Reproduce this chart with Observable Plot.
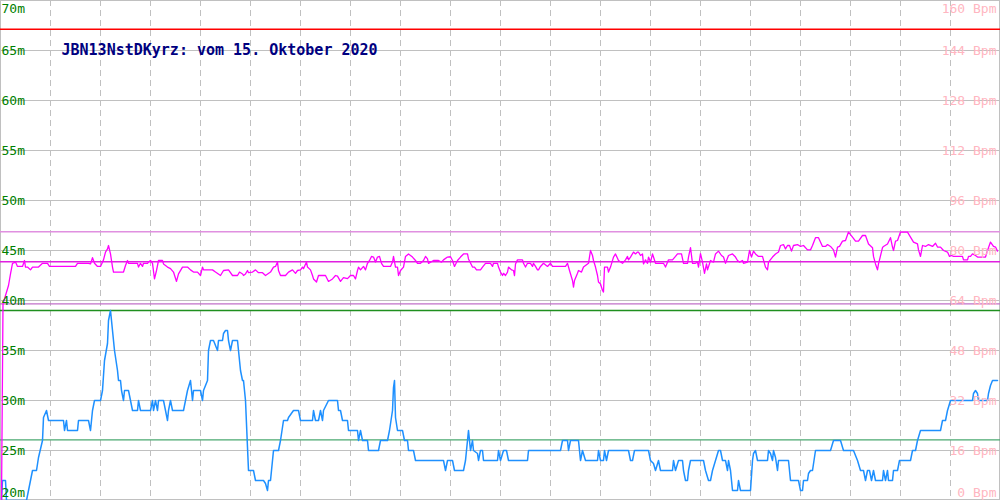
<!DOCTYPE html>
<html><head><meta charset="utf-8">
<script src="https://cdn.jsdelivr.net/npm/d3@7"></script>
<script src="https://cdn.jsdelivr.net/npm/@observablehq/plot@0.6"></script>
<style>html,body{margin:0;padding:0;background:#fff}</style>
</head><body><div id="chart"></div>
<script>
const title = "JBN13NstDKyrz: vom 15. Oktober 2020";
const depthTicks = [20, 25, 30, 35, 40, 45, 50, 55, 60, 65, 70];
const bpmTicks = [0, 16, 32, 48, 64, 80, 96, 112, 128, 144, 160];
const timeTicks = [50, 100, 150, 200, 250, 300, 350, 400, 450, 500, 550, 600, 650, 700, 750, 800, 850, 900, 950];

// [time, depth in m]
const depth = [[1,20],[2,22],[5,22],[6,20],[26,20],[28,21],[32,23],[36,23],[38,24.3],[42,26],[43,28.3],[46,29],[48,28],[63,28],[64,27],[66,28],[67,27],[68,27],[77,27],[78,28],[88,28],[90,27],[92,29],[94,30],[100,30],[102,31],[104,34],[107,35.7],[108,38],[110,39],[112,37],[114,35],[117,33],[118,32],[120,32],[121,31],[123,30],[124,31],[128,31],[130,30],[132,29],[137,29],[138,30],[140,29],[150,29],[152,30],[153,29],[155,30],[157,29],[158,30],[163,30],[165,29],[167,28],[168,29],[170,30],[172,29],[183,29],[185,30],[187,31],[190,32],[192,30],[193,31],[200,31],[202,30],[203,31],[207,32],[208,35],[210,36],[213,36],[217,35],[218,36],[222,36],[223,36.7],[225,37],[227,37],[228,36],[230,35],[232,36],[237,36],[240,33],[242,32],[243,32],[245,30],[247,25.3],[248,23],[253,23],[255,22],[263,22],[265,21.7],[267,21],[268,22],[270,22],[273,25],[278,25],[280,26],[283,28],[287,28],[288,28.3],[293,29],[298,29],[300,28],[312,28],[313,29],[315,28],[318,28],[320,29],[322,28],[323,29],[328,30],[337,30],[338,29],[340,29],[342,28],[347,28],[348,27],[357,27],[358,26],[360,27],[362,26],[367,26],[368,25],[378,25],[380,26],[387,26],[389,27],[392,29],[393,31.3],[394,32],[395,28.3],[397,27],[402,27],[404,26],[407,26],[408,25],[413,25],[415,24],[443,24],[445,23],[447,24],[452,24],[454,23],[463,23],[465,24],[467,26],[468,27],[470,25],[472,26],[473,25],[477,24.7],[478,24],[480,25],[482,25],[483,24],[497,24],[498,25],[500,24],[503,25],[506,25],[508,24],[527,24],[528,25],[560,25],[562,26],[567,26],[568,25],[570,26],[578,26],[580,24],[582,25],[585,24],[597,24],[598,25],[600,24],[603,24],[604,25],[606,24],[608,25],[628,25],[630,24],[632,24],[634,25],[648,25],[650,24],[653,23.7],[655,23],[658,24],[660,23],[672,23],[673,24],[675,23],[678,24],[682,24],[683,23],[685,22],[687,22],[688,23],[690,24],[703,24],[705,23],[708,22],[710,22],[712,23],[715,24],[718,25],[720,25],[722,24],[725,24],[727,23],[728,24],[730,23],[732,21],[737,21],[738,22],[740,21],[750,21],[752,24],[753,24.7],[755,25],[757,24],[767,24],[768,25],[770,24.7],[772,24],[773,25],[775,24.3],[777,23],[778,24],[788,24],[790,22],[798,22],[800,21],[802,21],[803,22],[807,22],[808,22.7],[810,23],[812,23],[815,25],[830,25],[833,26],[840,26],[843,25],[853,25],[857,24],[860,23],[863,23],[865,22],[867,23],[869,23],[871,22],[873,23],[875,22],[882,22],[883,23],[885,22],[887,23],[888,22],[892,22],[893,23],[897,23],[899,24],[910,24],[912,25],[915,25],[917,26],[920,27],[940,27],[942,28],[945,28],[947,29],[950,30],[972,30],[973,30.7],[975,31],[977,30.7],[978,30],[987,30],[988,30.7],[990,31.5],[992,32],[997,32]];

// [time, heart rate in Bpm]
const heartRate = [[1,0],[2.5,62.9],[8,68.8],[10,72.5],[12,75.9],[15,76.3],[17,74.9],[22,74.9],[24,76.8],[25,74.7],[27,74.7],[30,73.8],[32,74.7],[38,74.7],[42,75.9],[47,75.9],[49,74.9],[75,74.9],[77,75.9],[88,75.9],[90,75.7],[92,77.7],[94,75.9],[97,74.9],[100,74.9],[103,77],[105,79.5],[107,80.5],[108,81.6],[110,78.9],[112,74.7],[113,73.1],[123,73.1],[125,75.2],[127,76.8],[128,75.9],[137,75.9],[138,74.7],[140,75.9],[142,74.9],[143,75.9],[147,75.9],[148,76.3],[150,76.8],[152,75.9],[154,70.9],[156,73.6],[158,76.8],[162,76.8],[163,75.7],[167,74.7],[170,74.2],[173,73.1],[176,70.1],[178,72.5],[182,74.7],[187,74.7],[190,73.8],[193,73.1],[197,73.1],[200,72.0],[202,74.7],[203,73.8],[212,73.8],[215,73.1],[220,72.0],[223,73.6],[228,73.8],[232,72.0],[237,72.0],[239,73.1],[242,72.5],[243,72.0],[245,72.5],[247,73.6],[248,72.9],[252,73.1],[255,73.8],[258,72.9],[262,72.9],[265,72.0],[270,73.1],[273,74.7],[275,74.9],[277,76.3],[278,73.6],[280,72.0],[285,72.0],[288,73.1],[292,73.8],[295,72.7],[297,73.6],[300,73.8],[302,74.7],[303,74.2],[306,76.3],[307,74.7],[310,73.8],[312,72.0],[313,70.9],[316,69.9],[318,72.0],[325,72.0],[328,70.1],[332,70.9],[335,72.0],[337,71.8],[340,70.1],[343,71.3],[347,71.0],[350,72.0],[353,72.0],[355,70.9],[357,73.6],[358,74.7],[360,73.8],[363,74.9],[365,73.8],[367,75.9],[369,76.8],[371,78.1],[373,77.9],[375,76.3],[377,77.9],[379,78.1],[381,75.9],[383,74.9],[390,74.9],[392,76.3],[393,78.1],[395,74.7],[397,74.7],[398,72.0],[400,73.6],[403,74.7],[405,78.1],[408,78.9],[412,77.9],[415,76.8],[417,75.9],[420,75.9],[423,76.8],[425,78.1],[427,77.3],[428,75.9],[433,76.8],[438,76.8],[441,76.3],[443,77.0],[447,77.9],[450,78.0],[452,76.8],[454,74.9],[457,76.8],[460,77.9],[463,78.9],[467,78.9],[468,77.3],[472,74.7],[474,74.7],[476,73.8],[480,73.8],[482,74.7],[485,75.9],[490,75.9],[492,74.9],[493,75.9],[497,75.9],[498,74.7],[500,73.1],[502,72.0],[503,72.7],[505,72.0],[507,73.1],[508,74.7],[511,73.8],[513,73.6],[514,72.0],[515,75.7],[517,77.0],[522,77.0],[523,75.9],[525,74.7],[527,75.9],[530,75.9],[532,74.9],[533,75.9],[535,74.9],[537,73.8],[538,73.8],[540,74.9],[543,75.9],[547,74.9],[550,75.9],[552,74.9],[565,74.9],[567,75.9],[569,73.6],[572,70.4],[573,68.3],[574,70.4],[577,72.7],[578,73.6],[581,73.1],[583,74.7],[587,75.7],[588,75.9],[590,80.0],[592,78.4],[593,76.8],[595,74.7],[597,72.0],[598,69.9],[600,69.3],[602,67.2],[603,66.7],[604,74.7],[607,74.7],[608,73.1],[610,74.7],[613,77.9],[615,78.9],[618,76.8],[622,75.9],[625,77.0],[627,78.1],[628,77.0],[630,77.9],[633,79.5],[635,78.9],[637,79.5],[638,79.5],[640,78.4],[642,78.9],[643,75.7],[645,77.0],[647,75.9],[648,77.9],[650,76.3],[652,78.9],[653,77.9],[655,75.9],[663,75.9],[665,74.7],[668,77.0],[672,77.0],[675,78.1],[677,78.9],[681,78.9],[683,75.9],[687,75.9],[688,77.9],[690,80.9],[692,75.9],[695,75.9],[697,76.3],[698,74.7],[700,79.0],[702,76.3],[704,72.7],[706,75.7],[707,73.8],[710,76.8],[713,76.3],[715,78.9],[718,79.8],[721,78.4],[723,77.9],[725,75.9],[728,78.4],[732,78.9],[735,77.9],[737,76.8],[739,76.3],[742,76.8],[743,75.9],[747,76.3],[749,80.0],[751,77.9],[753,79.8],[755,78.9],[758,78.1],[762,78.1],[765,74.7],[767,73.8],[768,76.3],[772,77.9],[775,78.9],[778,79.5],[780,81.6],[783,81.9],[785,80.5],[787,81.6],[789,81.6],[791,79.8],[793,81.6],[797,81.9],[800,81.3],[803,81.6],[807,80.2],[810,80.2],[812,81.6],[815,84.1],[818,84.1],[822,81.3],[825,81.3],[827,81.9],[830,81.3],[833,80.2],[835,77.9],[837,81.1],[839,81.3],[842,83.0],[845,83.2],[848,85.9],[852,84.3],[855,83.0],[858,83.0],[862,84.8],[865,84.8],[868,82.1],[872,80.9],[873,78.1],[875,75.7],[877,73.8],[878,75.7],[882,80.9],[883,81.3],[887,82.1],[890,84.1],[892,81.1],[893,80.0],[895,83.0],[897,83.2],[900,85.9],[905,85.9],[907,85.9],[910,84.3],[913,82.7],[917,82.1],[918,80.2],[920,78.1],[922,81.6],[925,81.3],[928,81.9],[932,81.3],[935,82.3],[937,81.1],[940,81.1],[943,80.0],[947,79.5],[949,78.1],[951,78.4],[953,78.1],[962,78.1],[963,77.0],[967,77.0],[968,78.1],[970,78.1],[972,78.9],[975,78.4],[977,77.9],[985,77.9],[987,80.0],[990,82.7],[993,81.3],[995,81.1],[997,79.8]];

// reference levels
const depthRefs = [39.0, 26.07];             // max, mean depth (m)
const depthRefColors = ["#1f8f1f", "#4aa870"];
const bpmRefs = [150.8, 86.0, 76.4, 62.9];    // limit, max, mean, min (Bpm)
const bpmRefColors = ["#ff0000", "#e090e0", "#e020e0", "#c070c8"];

// Bpm are drawn against the right axis: 0..160 Bpm spans the same height as 20..70 m
const toY = b => 20 + b * 50 / 160;

const font = "DejaVu Sans Mono, Liberation Mono, monospace";
const grid = "#c0c0c0";

const chart = Plot.plot({
  width: 1000,
  height: 500,
  marginTop: 0, marginRight: 0, marginBottom: 0, marginLeft: 0,
  x: {domain: [0, 1000], axis: null},
  y: {domain: [20, 70], axis: null},
  style: {background: "#fff", fontFamily: font},
  marks: [
    Plot.ruleY(depthTicks, {stroke: grid, strokeWidth: 1}),
    Plot.ruleY([20], {stroke: grid, dy: -1}),
    Plot.ruleX(timeTicks, {stroke: grid, strokeDasharray: "6,4"}),
    Plot.ruleX([0], {stroke: grid}),
    Plot.ruleX([1000], {stroke: grid, dx: -1}),
    Plot.ruleY(depthRefs, {y: d => d, stroke: (d, i) => depthRefColors[i], strokeWidth: 1.3}),
    Plot.ruleY(bpmRefs, {y: d => toY(d), stroke: (d, i) => bpmRefColors[i], strokeWidth: 1.3}),
    Plot.line(depth, {x: d => d[0], y: d => d[1], stroke: "#1e90ff", strokeWidth: 1.5}),
    Plot.line(heartRate, {x: d => d[0], y: d => toY(d[1]), stroke: "#ff00ff", strokeWidth: 1.3}),
    // left axis labels (m)
    Plot.text(depthTicks.filter(d => d > 20 && d < 70), {frameAnchor: "left", y: d => d, text: d => d + "m", textAnchor: "start", lineAnchor: "bottom", dx: 1, dy: 4, fill: "#008000", fontSize: 13, fontFamily: font}),
    Plot.text([70], {frameAnchor: "left", y: d => d, text: d => d + "m", textAnchor: "start", lineAnchor: "top", dx: 1, dy: 3, fill: "#008000", fontSize: 13, fontFamily: font}),
    Plot.text([20], {frameAnchor: "left", y: d => d, text: d => d + "m", textAnchor: "start", lineAnchor: "bottom", dx: 1, dy: -3.5, fill: "#008000", fontSize: 13, fontFamily: font}),
    // right axis labels (Bpm)
    Plot.text(bpmTicks.filter(d => d > 0 && d < 160), {frameAnchor: "right", y: d => toY(d), text: d => d + " Bpm", textAnchor: "end", lineAnchor: "bottom", dx: -4, dy: 4, fill: "#ffb6c1", fontSize: 13, fontFamily: font}),
    Plot.text([160], {frameAnchor: "right", y: d => toY(d), text: d => d + " Bpm", textAnchor: "end", lineAnchor: "top", dx: -4, dy: 3, fill: "#ffb6c1", fontSize: 13, fontFamily: font}),
    Plot.text([0], {frameAnchor: "right", y: d => toY(d), text: d => d + " Bpm", textAnchor: "end", lineAnchor: "bottom", dx: -4, dy: -3.5, fill: "#ffb6c1", fontSize: 13, fontFamily: font}),
    // title
    Plot.text([title], {frameAnchor: "top-left", text: d => d, textAnchor: "start", lineAnchor: "bottom", dx: 61, dy: 54, fill: "#000080", fontSize: 15, fontWeight: "bold", fontFamily: font})
  ]
});
document.getElementById("chart").appendChild(chart);
</script>
</body></html>
